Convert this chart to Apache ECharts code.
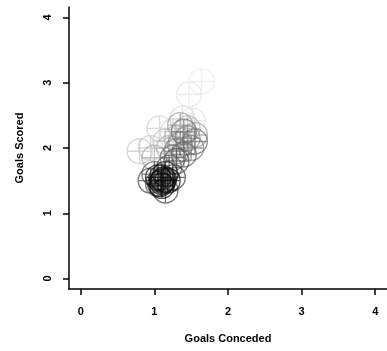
<!DOCTYPE html>
<html><head><meta charset="utf-8">
<script src="https://cdn.jsdelivr.net/npm/echarts@6/dist/echarts.min.js"></script>
<style>html,body{margin:0;padding:0;background:#fff}#c{width:387px;height:351px}</style>
</head><body><div id="c"></div>
<script>
// Goals conceded (x), goals scored (y), grey shade per point (0 = black, 255 = white)
var conceded = [1.64,1.47,1.52,1.38,1.25,1.07,0.80,0.95,1.15,
  1.30,1.45,1.20,1.00,1.55,1.35,
  1.35,1.45,1.30,1.50,1.40,1.25,1.55,1.40,
  1.20,1.00,1.30,1.05,1.15,0.95,1.25,
  1.10,1.12,1.08,1.15,1.10,1.13,1.05,1.18,1.10];
var scored = [3.02,2.82,2.42,2.45,2.25,2.30,1.95,2.00,2.10,
  2.15,2.30,2.00,1.85,2.20,2.35,
  2.05,2.15,1.95,2.00,2.25,1.85,2.10,1.90,
  1.70,1.60,1.80,1.45,1.35,1.50,1.55,
  1.55,1.50,1.45,1.60,1.48,1.52,1.55,1.50,1.42];
var shade = [235,228,222,215,210,205,200,200,195,
  180,175,170,165,160,150,
  135,130,125,120,115,110,105,100,
  85,80,75,70,65,60,55,
  30,25,20,18,15,15,12,10,8];
var ticks = [0,1,2,3,4];

var data = conceded.map(function(x,i){
  var g = shade[i];
  return {value:[x, scored[i]], itemStyle:{borderColor:'rgba('+g+','+g+','+g+',0.85)'}};
});
var FF = 'Liberation Sans, Arial, sans-serif';
var k = 5.523;
var sym = 'path://M0,-10 C' + k + ',-10 10,-' + k + ' 10,0 C10,' + k + ' ' + k + ',10 0,10 C-' + k + ',10 -10,' + k + ' -10,0 C-10,-' + k + ' -' + k + ',-10 0,-10 Z M-10,0 L10,0 M0,-10 L0,10';
var chart = echarts.init(document.getElementById('c'), null, {renderer:'canvas'});
chart.setOption({
  animation:false,
  grid:{left:69, top:7, width:326, height:282, containLabel:false},
  xAxis:{type:'value', min:-0.16, max:4.16, splitLine:{show:false},
    axisLine:{show:true, onZero:false, lineStyle:{color:'#000', width:1.5}},
    axisTick:{show:true, length:6, customValues:ticks, lineStyle:{color:'#000', width:1.5}},
    axisLabel:{show:true, customValues:ticks, margin:17, fontFamily:FF, fontWeight:'bold', fontSize:11, color:'#000'},
    name:'Goals Conceded', nameLocation:'middle', nameGap:44,
    nameTextStyle:{fontFamily:FF, fontWeight:'bold', fontSize:11, color:'#000'}},
  yAxis:{type:'value', min:-0.16, max:4.16, splitLine:{show:false},
    axisLine:{show:true, onZero:false, lineStyle:{color:'#000', width:1.5}},
    axisTick:{show:true, length:6, customValues:ticks, lineStyle:{color:'#000', width:1.5}},
    axisLabel:{show:true, customValues:ticks, margin:16, rotate:90, fontFamily:FF, fontWeight:'bold', fontSize:11, color:'#000'},
    name:'Goals Scored', nameLocation:'middle', nameGap:44, nameRotate:90,
    nameTextStyle:{fontFamily:FF, fontWeight:'bold', fontSize:11, color:'#000'}},
  series:[{
    type:'scatter',
    symbol:sym, symbolSize:25,
    itemStyle:{color:'rgba(0,0,0,0)', borderWidth:1.4},
    data:data
  }]
});
</script></body></html>
